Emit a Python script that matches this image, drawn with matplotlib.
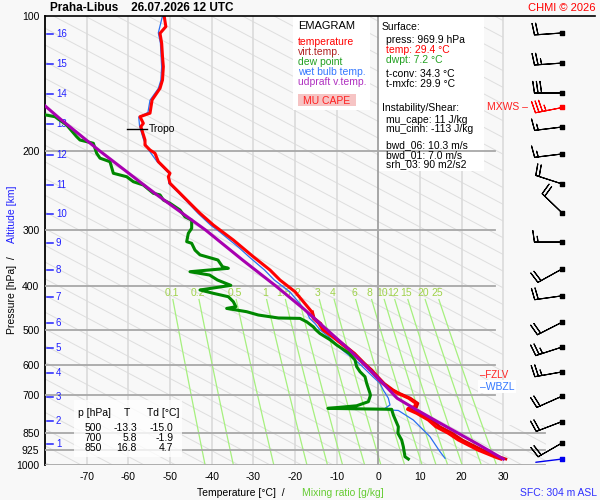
import matplotlib
matplotlib.use('Agg')
import matplotlib.pyplot as plt
import matplotlib.patches as mpatches
from matplotlib.ticker import NullLocator
import numpy as np

plt.rcParams['font.family'] = ['Liberation Sans', 'DejaVu Sans']

# ---- values ----
title_station = 'Praha-Libus'
title_time = '26.07.2026 12 UTC'

press_ticks = [100, 200, 300, 400, 500, 600, 700, 850, 925, 1000]
temp_ticks = [-70, -60, -50, -40, -30, -20, -10, 0, 10, 20, 30]

km_levels = [16, 15, 14, 13, 12, 11, 10, 9, 8, 7, 6, 5, 4, 3, 2, 1]
km_press = [109.7, 127.9, 149.2, 174.0, 204.0, 237.8, 276.0, 320.3, 368.0,
            422.5, 482.8, 548.8, 624.1, 705.7, 798.0, 897.9]

mix_ratios = [0.1, 0.2, 0.5, 1, 1.5, 2, 3, 4, 6, 8, 10, 12, 15, 20, 25]
mix_labels = ['0.1', '0.2', '0.5', '1', '1.5', '2', '3', '4', '6', '8',
              '10', '12', '15', '20', '25']

temp_p = [100, 105.6, 109.3, 115, 123.2, 129.7, 138.8, 144.9, 153.8, 164.6,
          167.6, 173.4, 176.4, 182.5, 188.9, 193.8, 198.8, 202.2, 211.1, 214.7,
          220.3, 224, 228, 235.8, 248.2, 261.3, 275, 292.1, 315.5, 343.7,
          367.9, 387.3, 411.2, 432.8, 455.6, 471.3, 483.5, 500, 518, 563.9,
          593.6, 614.4, 635.8, 657.7, 680.7, 692.3, 700, 710.3, 729, 741.7,
          747.8, 751.6, 767.3, 794.1, 821.8, 850, 879.6, 926, 961.4, 969.9]
temp_t = [-51.4, -51.0, -52.4, -52.0, -51.8, -51.6, -51.8, -52.4, -54.3, -54.8,
          -57.2, -56.4, -57.0, -56.5, -56.0, -56.0, -54.8, -53.6, -52.8, -52.0,
          -50.8, -50.0, -50.4, -50.0, -47.6, -45.2, -42.8, -39.6, -34.8, -30.0,
          -26.0, -23.6, -20.0, -18.0, -16.0, -15.6, -14.3, -13.3, -11.0, -6.0,
          -3.6, -2.0, -0.5, 1.0, 3.2, 4.6, 5.8, 7.3, 9.0, 8.7,
          7.2, 7.0, 9.2, 12.0, 13.8, 16.8, 19.2, 23.9, 28.2, 29.4]

virt_p = [456, 471, 484, 500, 518, 564, 594, 614, 636, 658, 681, 692, 700,
          710, 729, 742, 748, 752, 767, 794, 822, 850, 880, 926, 961, 969.9]
virt_t = [-15.8, -15.4, -13.8, -13.1, -10.7, -5.7, -3.3, -1.6, -0.1, 1.4, 3.6,
          5.0, 6.2, 7.7, 9.5, 9.2, 7.5, 7.8, 9.8, 12.8, 14.8, 17.8, 20.2,
          25.0, 29.3, 30.6]

dewp_p = [164, 167.6, 174.9, 185.7, 188.9, 192.1, 202.2, 207.3, 211.1, 224,
          228, 233.9, 237.9, 248.2, 250.3, 256.9, 261.3, 270.5, 280.1, 284.9,
          297.1, 304.8, 318.1, 320.8, 332.2, 340.4, 349.5, 361.7, 364.7, 371.1,
          377.5, 387.3, 398, 407.6, 414.6, 421.9, 432.8, 444.1, 448, 455.6,
          463.4, 470.5, 471.5, 479.8, 492.4, 500, 509.7, 526, 540.5, 563.9,
          583.6, 603.9, 619.7, 635.8, 657.7, 692.3, 700, 722.8, 738, 748,
          751.6, 773.9, 821.8, 850, 879.6, 910.4, 958.4, 969.9]
dewp_t = [-83.0, -77.6, -74.8, -72.4, -71.6, -68.4, -67.6, -66.8, -64.4, -63.6,
          -60.4, -58.8, -56.4, -54.0, -52.4, -51.6, -50.0, -47.6, -46.4, -44.8,
          -44.8, -45.6, -46.0, -44.8, -44.0, -42.8, -38.5, -37.4, -36.0, -45.2,
          -40.5, -38.6, -35.4, -42.8, -39.6, -36.0, -34.8, -34.2, -36.4, -31.6,
          -28.8, -24.0, -18.8, -17.2, -15.6, -15.0, -14.0, -11.6, -10.0, -7.0,
          -5.6, -5.2, -4.4, -3.2, -2.8, -2.0, -1.9, -2.4, -5.2, -12.1,
          3.2, 3.6, 4.8, 4.7, 5.6, 6.0, 6.4, 7.2]

wetb_p = [100, 109, 115, 130, 139, 145, 154, 164, 168, 176, 189, 199, 211,
          224, 236, 248, 261, 275, 292, 303, 316, 327, 344, 368, 387, 411,
          433, 456, 471, 484, 500, 518, 555, 594, 636, 658, 681, 710, 735,
          748, 754, 756, 794, 865, 934, 966]
wetb_t = [-51.8, -52.8, -52.3, -52.0, -52.2, -52.8, -54.8, -55.3, -57.5, -57.3,
          -56.3, -55.1, -53.1, -50.3, -50.3, -47.9, -45.6, -43.3, -40.3, -38.0,
          -35.6, -33.6, -31.0, -27.3, -25.0, -21.3, -19.2, -17.2, -16.5, -15.2,
          -14.0, -11.9, -8.6, -4.6, -1.3, 0.4, 1.2, 2.4, 2.8, 1.6, 2.4, 4.8,
          8.4, 12.4, 14.8, 16.0]

parcel_p = [969.9, 900, 850, 800, 750, 710, 650, 600, 550, 500, 450, 400,
            350, 300, 250, 240, 200, 170, 150]
parcel_t = [30.0, 24.0, 19.2, 14.1, 8.8, 4.5, 0.6, -3.1, -7.3, -12.3, -17.8,
            -24.5, -32.5, -41.4, -53.2, -55.7, -66.8, -76.2, -83.0]

tropo_p = 178.5
tropo_t = -57.9

wind_p = [109.1, 127.3, 148.4, 176.7, 202.9, 236.6, 274.4, 318.8, 366.0,
          420.0, 480.9, 546.2, 620.4, 702.7, 800.2, 893.2]
wind_dir = [266, 266, 270, 263, 263, 288, 314, 270, 241, 262, 243, 252,
            260, 246, 249, 240]
wind_spd = [20, 25, 30, 15, 15, 20, 20, 15, 20, 20, 20, 25, 25, 20, 20, 20]
mxws_p, mxws_dir, mxws_spd = 159.4, 259, 35
sfc_p, sfc_dir = 969.9, 263

table_rows = [('500', '-13.3', '-15.0'), ('700', '5.8', '-1.9'), ('850', '16.8', '4.7')]

info_lines = [('Surface:', 'k', 382, 27), ('press: 969.9 hPa', 'k', 386, 40),
              ('temp: 29.4 \u00b0C', '#ff0000', 386, 50), ('dwpt: 7.2 \u00b0C', '#22a022', 386, 60),
              ('t-conv: 34.3 \u00b0C', 'k', 386, 74), ('t-mxfc: 29.9 \u00b0C', 'k', 386, 84),
              ('Instability/Shear:', 'k', 382, 108), ('mu_cape: 11 J/kg', 'k', 386, 120),
              ('mu_cinh: -113 J/kg', 'k', 386, 129.5), ('bwd_06: 10.3 m/s', 'k', 386, 145),
              ('bwd_01: 7.0 m/s', 'k', 386, 155), ('srh_03: 90 m2/s2', 'k', 386, 164.5)]
legend_items = [('temperature', '#ff0000'), ('virt.temp.', '#b02020'),
                ('dew point', '#22a022'), ('wet bulb temp.', '#3377ff'),
                ('udpraft v.temp.', '#b030c0')]

BG = '#f8f8f8'
BLUE = '#2020ff'
W, H = 600.0, 500.0


def fx(x):
    return x / W


def fy(y):
    return 1 - y / H


def td_of_mix(w, p):
    e = w * p / (622.0 + w)
    a = np.log(e / 6.112)
    return 243.5 * a / (17.67 - a)


fig = plt.figure(figsize=(6, 5), dpi=100, facecolor=BG)
ax = fig.add_axes([fx(45), fy(465), 555 / W, 449 / H])
ax.set_facecolor(BG)
ax.set_yscale('log')
ax.set_ylim(1000, 100)
ax.set_xlim(-80.0, 53.2)

# background hatch lines
clip = mpatches.Polygon([(-80, 100), (30, 100), (30, 815), (40.2, 815), (40.2, 1000), (-80, 1000)],
                        closed=True, transform=ax.transData, fill=False, lw=0)
ax.add_patch(clip)
tt = np.array([-80.0, 60.0])
for k in range(-18, 32):
    c = 1.87846 + k * 0.0372
    ln, = ax.plot(tt, 10 ** (c + 0.00492 * (tt + 80)), color='#dedede', lw=0.7, zorder=1)
    ln.set_clip_path(clip)

# isotherms
for t in temp_ticks:
    ax.plot([t, t], [100, 1000], color='#999999' if t == 0 else '#dadada',
            lw=1.2, zorder=1.5 if t else 3)

# text boxes in the plot
ax.add_patch(mpatches.Rectangle((fx(293), fy(110)), fx(77), 94 / H, transform=fig.transFigure,
                                facecolor='white', edgecolor='none', zorder=2))
ax.add_patch(mpatches.Rectangle((fx(379), fy(171)), fx(105), 155 / H, transform=fig.transFigure,
                                facecolor='white', edgecolor='none', zorder=2))
ax.add_patch(mpatches.Rectangle((fx(298), fy(106)), fx(58), 12 / H, transform=fig.transFigure,
                                facecolor='#f6c4c4', edgecolor='none', zorder=2.1))

# isobars
for p in press_ticks[1:]:
    right = 40.1 if p >= 850 else 28.1
    ax.plot([-80, right], [p, p], color='#a8a8a8', lw=1.3, zorder=3)
ax.plot([-80, 51.9], [100, 100], color='k', lw=1.2, zorder=9, clip_on=False)

# mixing ratio lines
pp = np.linspace(428, 1000, 40)
for w, lab in zip(mix_ratios, mix_labels):
    ax.plot(td_of_mix(w, pp), pp, color='#a6f07e', lw=0.9, zorder=2.5)
    ax.text(td_of_mix(w, 414.0), 414.0, lab, color='#9fd24a', fontsize=7.5,
            ha='center', va='center', zorder=2.6)

# km scale
for k, p in zip(km_levels, km_press):
    ax.plot([-79.4, -78.0], [p, p], color=BLUE, lw=1.1, zorder=4)
    ax.text(-77.4, p, str(k), color=BLUE, fontsize=7, ha='left', va='center', zorder=4)

# profiles
ax.plot(wetb_t, wetb_p, color='#2a6ff0', lw=0.9, zorder=5)
ax.plot(virt_t, virt_p, color='#e00000', lw=2.0, zorder=6)
ax.plot(temp_t, temp_p, color='#ff0000', lw=2.2, zorder=6)
ax.plot(dewp_t, dewp_p, color='#008800', lw=2.2, zorder=7)
ax.plot(parcel_t, parcel_p, color='#a800b0', lw=2.2, zorder=8)

ax.plot([tropo_t - 2.4, tropo_t + 2.4], [tropo_p, tropo_p], color='k', lw=1, zorder=9)
ax.text(tropo_t + 2.9, tropo_p, 'Tropo', fontsize=7.5, va='center', ha='left', zorder=9)

# table box
ax.add_patch(mpatches.Rectangle((fx(74), fy(457)), fx(108), 57 / H, transform=fig.transFigure,
                                facecolor='white', edgecolor='none', alpha=0.8, zorder=9))

for s in ['top', 'right', 'bottom']:
    ax.spines[s].set_visible(False)
ax.spines['left'].set_color('k')
ax.spines['left'].set_linewidth(1.3)
ax.set_yticks(press_ticks)
ax.set_yticklabels([str(p) for p in press_ticks])
ax.yaxis.set_minor_locator(NullLocator())
ax.set_xticks(temp_ticks)
ax.set_xticklabels([str(t) for t in temp_ticks])
ax.tick_params(axis='y', length=0, pad=4, labelsize=7.5)
ax.tick_params(axis='x', length=0, pad=5, labelsize=7.5)

# wind barbs
bx = fig.add_axes([fx(500), fy(465), 100 / W, 449 / H])
bx.set_xlim(0, 100)
bx.set_yscale('log')
bx.set_ylim(1000, 100)
bx.axis('off')
barb_sizes = dict(spacing=0.13, height=0.42, width=0.12)
rad = np.radians(wind_dir)
u = -np.array(wind_spd) * np.sin(rad)
v = -np.array(wind_spd) * np.cos(rad)
xs = [62] * len(wind_p)
bx.barbs(xs, wind_p, u, v, length=6.3, linewidth=0.8, color='k', sizes=barb_sizes, zorder=3)
bx.scatter(xs, wind_p, marker='s', s=5, color='k', zorder=4)
mr = np.radians(mxws_dir)
bx.barbs([62], [mxws_p], [-mxws_spd * np.sin(mr)], [-mxws_spd * np.cos(mr)],
         length=6.3, linewidth=0.8, color='#ff0000', sizes=barb_sizes, zorder=3)
bx.scatter([62], [mxws_p], marker='s', s=5, color='#ff0000', zorder=4)
sr = np.radians(sfc_dir)
bx.annotate('', xy=(62, sfc_p), xytext=(19 * np.sin(sr), 19 * np.cos(sr)), textcoords='offset points',
            arrowprops=dict(arrowstyle='-', color='#0000ee', lw=1, shrinkA=0, shrinkB=0))
bx.scatter([62], [sfc_p], marker='s', s=5, color='#0000ee', zorder=4)

# figure texts
fig.text(fx(50), fy(8), title_station + '    ' + title_time, fontsize=8.5, fontweight='bold', va='center')
fig.text(fx(595), fy(8), 'CHMI \u00a9 2026', fontsize=8, color='#ff0000', ha='right', va='center')
fig.text(fx(12), fy(334), 'Pressure [hPa]  /', rotation=90, ha='center', va='bottom', fontsize=7.5)
fig.text(fx(12), fy(243), 'Altitude [km]', rotation=90, ha='center', va='bottom', fontsize=7.5, color=BLUE)
fig.text(fx(197), fy(493), 'Temperature [\u00b0C]  /', ha='left', va='center', fontsize=7.5)
fig.text(fx(302), fy(493), 'Mixing ratio [g/kg]', ha='left', va='center', fontsize=7.5, color='#66cc33')
fig.text(fx(597), fy(493), 'SFC: 304 m ASL', ha='right', va='center', fontsize=7.5, color='#3030ff')

fig.text(fx(298), fy(26), 'EMAGRAM', fontsize=8, va='center')
for i, (lab, col) in enumerate(legend_items):
    fig.text(fx(298), fy(42 + 10 * i), lab, fontsize=7.5, color=col, va='center')
fig.text(fx(327), fy(100.5), 'MU CAPE', fontsize=7.5, color='#ff2020', ha='center', va='center')

for txt, col, x, y in info_lines:
    fig.text(fx(x), fy(y), txt, fontsize=7.5, color=col, va='center')

fig.text(fx(487), fy(107), 'MXWS \u2013', fontsize=7.5, color='#ff2020', va='center')
fig.text(fx(480), fy(375.5), '\u2013FZLV', fontsize=7, color='#ff2020', va='center')
fig.text(fx(480), fy(386.5), '\u2013WBZL', fontsize=7.5, color='#3377ff', va='center',
         bbox=dict(facecolor='white', edgecolor='none', pad=1.2))

fig.text(fx(78), fy(413), 'p [hPa]', fontsize=7.5, va='center')
fig.text(fx(127), fy(413), 'T', fontsize=7.5, va='center', ha='center')
fig.text(fx(147), fy(413), 'Td [\u00b0C]', fontsize=7.5, va='center')
for i, (p, t, td) in enumerate(table_rows):
    yy = fy(428 + 10 * i)
    fig.text(fx(102), yy, p, fontsize=7.5, va='center', ha='right')
    fig.text(fx(137), yy, t, fontsize=7.5, va='center', ha='right')
    fig.text(fx(173.5), yy, td, fontsize=7.5, va='center', ha='right')

fig.savefig('out.png', dpi=100, facecolor=BG)
